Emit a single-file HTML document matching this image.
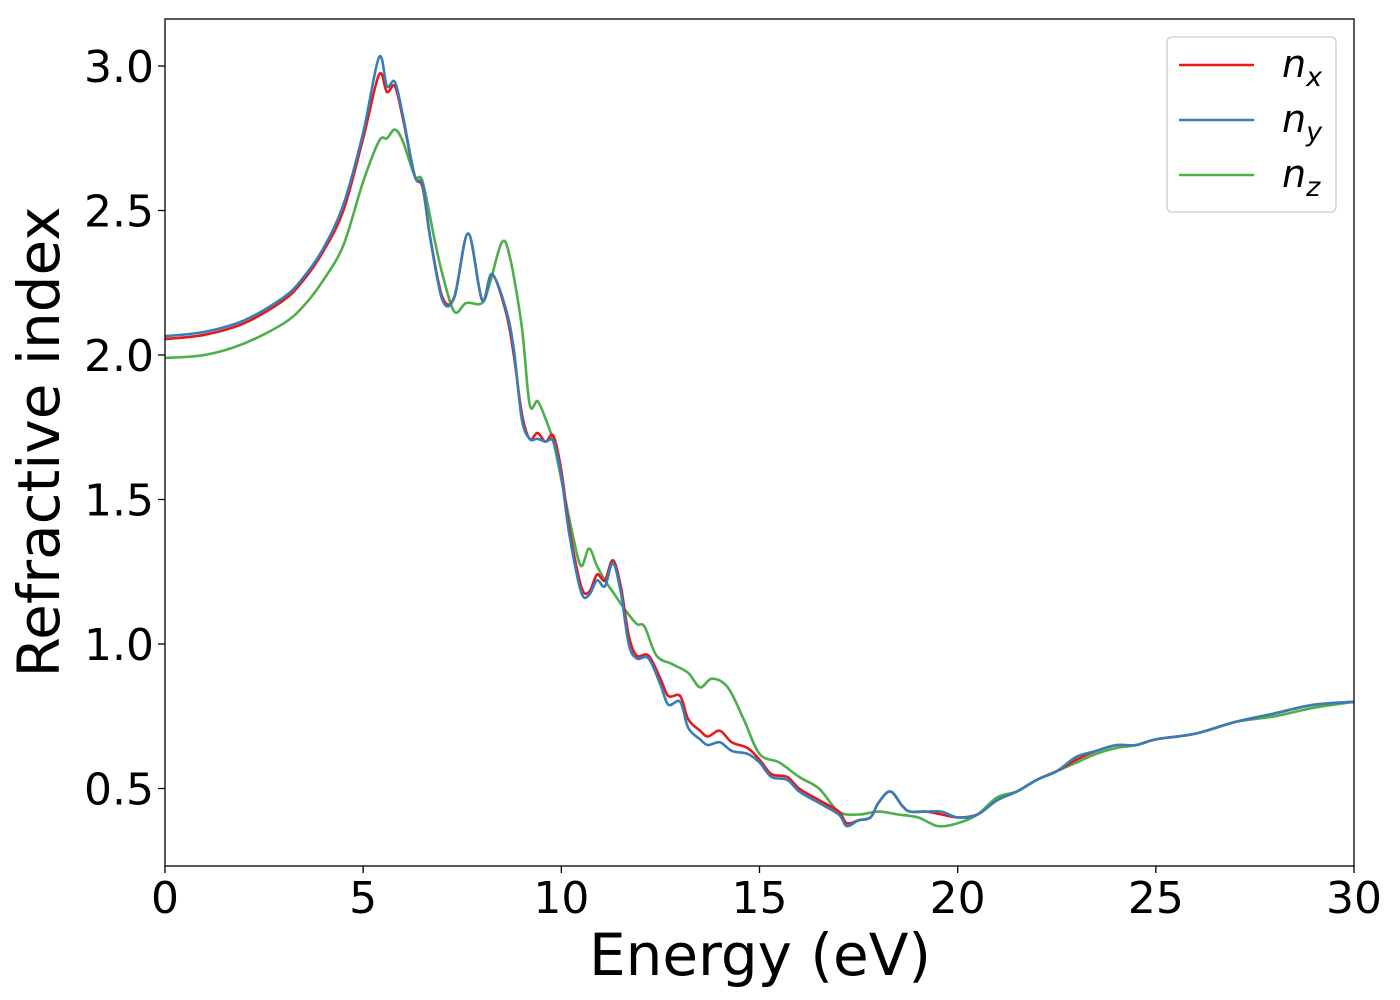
<!DOCTYPE html>
<html><head><meta charset="utf-8"><style>
body{margin:0;background:#fff}
svg{display:block;font-family:"DejaVu Sans","Liberation Sans",sans-serif}
</style></head><body>
<svg id="chart" width="1400" height="1000">
<g id="plot"></g>
</svg>
<script>
const energyX=[0,1,2,3,3.5,4,4.5,5,5.4,5.6,5.8,6.0,6.3,6.5,6.7,7.0,7.3,7.65,8.0,8.25,8.6,8.8,9.0,9.2,9.4,9.6,9.8,10.0,10.2,10.5,10.7,10.9,11.1,11.3,11.5,11.7,11.9,12.2,12.5,12.7,13.0,13.2,13.5,13.7,14.0,14.3,14.7,15.0,15.3,15.7,16.0,16.5,17.0,17.2,17.5,17.8,18.0,18.3,18.6,18.8,19.2,19.6,20.0,20.5,21.0,21.5,22,22.5,23,23.5,24,24.5,25,26,27,28,29,30];
const nxValues=[2.055,2.07,2.11,2.19,2.26,2.36,2.5,2.75,2.97,2.91,2.93,2.82,2.62,2.58,2.4,2.2,2.2,2.42,2.19,2.28,2.15,2.0,1.8,1.71,1.73,1.7,1.72,1.6,1.4,1.2,1.18,1.24,1.22,1.29,1.2,1.03,0.96,0.96,0.88,0.82,0.82,0.74,0.70,0.68,0.70,0.66,0.64,0.6,0.55,0.54,0.5,0.46,0.42,0.38,0.39,0.40,0.45,0.49,0.44,0.42,0.42,0.41,0.4,0.41,0.46,0.49,0.53,0.56,0.6,0.63,0.65,0.65,0.67,0.69,0.73,0.76,0.79,0.80];
const nyValues=[2.065,2.08,2.12,2.2,2.27,2.37,2.52,2.77,3.03,2.93,2.945,2.83,2.62,2.59,2.4,2.19,2.2,2.42,2.19,2.28,2.16,2.02,1.78,1.71,1.71,1.7,1.7,1.58,1.38,1.18,1.17,1.22,1.2,1.28,1.18,1.0,0.95,0.95,0.86,0.79,0.80,0.71,0.67,0.65,0.66,0.63,0.62,0.59,0.54,0.53,0.49,0.45,0.41,0.37,0.39,0.40,0.45,0.49,0.44,0.42,0.42,0.42,0.4,0.41,0.46,0.49,0.53,0.56,0.61,0.63,0.65,0.65,0.67,0.69,0.73,0.76,0.79,0.80];
const energyZ=[0,1,2,3,3.5,4,4.5,5,5.4,5.6,5.8,6.0,6.3,6.5,6.8,7.0,7.3,7.6,8.0,8.2,8.5,8.7,9.0,9.2,9.4,9.6,9.8,10.0,10.3,10.5,10.7,10.9,11.1,11.3,11.6,11.9,12.1,12.4,12.8,13.2,13.5,13.8,14.2,14.6,15.0,15.5,16,16.5,17,17.5,18,18.5,19,19.5,20,20.5,21,21.5,22,22.5,23,23.5,24,24.5,25,26,27,28,29,30];
const nzValues=[1.99,2.0,2.04,2.11,2.17,2.26,2.38,2.6,2.74,2.75,2.78,2.74,2.62,2.6,2.4,2.28,2.15,2.18,2.18,2.25,2.39,2.34,2.1,1.83,1.84,1.78,1.7,1.57,1.37,1.27,1.33,1.27,1.22,1.18,1.12,1.07,1.06,0.96,0.93,0.9,0.85,0.88,0.85,0.74,0.62,0.59,0.54,0.50,0.42,0.41,0.42,0.41,0.40,0.37,0.38,0.41,0.47,0.49,0.53,0.56,0.59,0.62,0.64,0.65,0.67,0.69,0.73,0.75,0.78,0.80];
const xTicks=[0,5,10,15,20,25,30];
const yTicks=[0.5,1.0,1.5,2.0,2.5,3.0];
const yTickLabels=["0.5","1.0","1.5","2.0","2.5","3.0"];

const L=165,R=1354,T=19,B=866;
const xs=v=>L+(v-0)/30*(R-L);
const ys=v=>66+(3.0-v)/0.5*144.5;
const NS="http://www.w3.org/2000/svg";
const g=document.getElementById('plot');
function mk(tag,attrs,parent){const e=document.createElementNS(NS,tag);for(const k in attrs)e.setAttribute(k,attrs[k]);(parent||g).appendChild(e);return e;}

const clip=mk('clipPath',{id:'clip'});mk('rect',{x:L,y:T,width:R-L,height:B-T},clip);

function smoothPath(pts){
  let d='M'+pts[0][0].toFixed(1)+','+pts[0][1].toFixed(1);
  for(let i=0;i<pts.length-1;i++){
    const p0=pts[Math.max(0,i-1)],p1=pts[i],p2=pts[i+1],p3=pts[Math.min(pts.length-1,i+2)];
    const c1=[p1[0]+(p2[0]-p0[0])/6,p1[1]+(p2[1]-p0[1])/6];
    const c2=[p2[0]-(p3[0]-p1[0])/6,p2[1]-(p3[1]-p1[1])/6];
    d+='C'+c1[0].toFixed(1)+','+c1[1].toFixed(1)+' '+c2[0].toFixed(1)+','+c2[1].toFixed(1)+' '+p2[0].toFixed(1)+','+p2[1].toFixed(1);
  }
  return d;
}
function line(xv,yv,color,name){
  const pts=xv.map((x,i)=>[xs(x),ys(yv[i])]);
  const p=mk('path',{d:smoothPath(pts),fill:'none',stroke:color,'stroke-width':2.6,'stroke-linejoin':'round','clip-path':'url(#clip)'});
  
  
}
line(energyZ,nzValues,'#4daf4a','series-nz');
line(energyX,nxValues,'#e41a1c','series-nx');
line(energyX,nyValues,'#377eb8','series-ny');

const frame=mk('rect',{x:L,y:T,width:R-L,height:B-T,fill:'none',stroke:'#000','stroke-width':1.3});



xTicks.forEach(v=>{
  mk('line',{x1:xs(v),x2:xs(v),y1:B,y2:B+7,stroke:'#000','stroke-width':1.3});
  const t=mk('text',{x:xs(v),y:B+47,'text-anchor':'middle','font-size':44});
  t.textContent=v;
  
  
});
yTicks.forEach((v,i)=>{
  mk('line',{x1:L-7,x2:L,y1:ys(v),y2:ys(v),stroke:'#000','stroke-width':1.3});
  const t=mk('text',{x:L-11,y:ys(v)+16,'text-anchor':'end','font-size':44});
  t.textContent=yTickLabels[i];
  
  
});
const xt=mk('text',{x:760,y:975,'text-anchor':'middle','font-size':58});
xt.textContent='Energy (eV)';


const yt=mk('text',{x:0,y:0,'text-anchor':'middle','font-size':58,transform:'translate(59,442) rotate(-90)'});
yt.textContent='Refractive index';



const lg=mk('g',{});


mk('rect',{x:1167,y:37,width:169,height:175,rx:5,fill:'#fff','fill-opacity':0.8,stroke:'#ccc','stroke-width':1.3},lg);
[['#e41a1c','x',65,'legend-entry-nx'],['#377eb8','y',120,'legend-entry-ny'],['#4daf4a','z',175,'legend-entry-nz']].forEach(([c,s,y,n])=>{
  const e=mk('g',{},lg);
  
  
  mk('line',{x1:1179,x2:1254,y1:y,y2:y,stroke:c,'stroke-width':2.6},e);
  const t=mk('text',{x:1282,y:y+12,'font-size':38,'font-style':'italic'},e);
  t.textContent='n';
  const sub=mk('tspan',{'font-size':27,dy:9},t);
  sub.textContent=s;
});
</script>
</body></html>
